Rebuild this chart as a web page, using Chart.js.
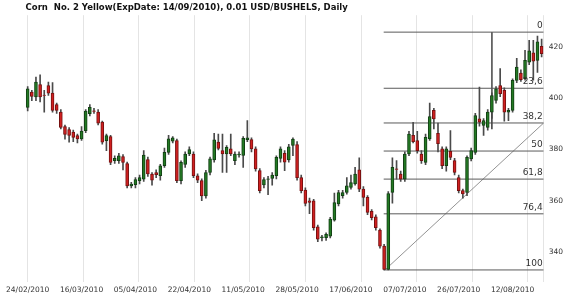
<!DOCTYPE html>
<html>
<head>
<meta charset="utf-8">
<script src="https://cdn.jsdelivr.net/npm/chart.js@4.4.1/dist/chart.umd.min.js"></script>
<style>
  html, body { margin: 0; padding: 0; background: #fff; }
  #wrap { width: 570px; height: 300px; }
</style>
</head>
<body>
<div id="wrap"><canvas id="chart"></canvas></div>
<script>
// daily candles, 24/02/2010 .. 23/08/2010
const opens = [396.4,402.3,400.4,405.3,401.2,404.9,401.9,397.5,394.5,388.9,387.7,386.7,385.4,384.1,387.3,393.9,395.0,394.5,390.6,383.4,
  385.0,375.6,375.6,377.2,374.5,365.8,366.2,367.8,368.4,376.0,370.4,371.0,369.7,373.6,378.8,383.2,383.4,367.8,374.1,378.2,
  378.2,369.7,367.8,361.9,371.0,375.9,382.8,379.5,378.2,380.2,375.6,377.8,377.6,383.8,383.8,380.2,371.7,366.1,368.3,368.7,
  369.7,376.5,378.5,375.9,381.5,381.9,369.0,364.1,359.9,359.9,349.8,345.6,345.6,346.2,352.4,358.7,362.0,363.2,365.2,366.5,
  372.0,364.5,361.3,355.8,353.7,348.5,342.3,333.2,363.2,372.4,370.4,368.4,378.2,385.5,383.4,378.2,374.9,384.1,395.2,386.3,
  380.2,373.6,379.2,375.6,369.0,363.9,363.2,376.3,378.8,391.9,389.3,388.6,394.5,399.1,404.9,403.0,394.5,395.2,406.9,409.7,
  407.6,414.0,417.6,414.7,420.2];
const highs = [404.5,403.0,408.2,409.1,403.0,406.2,406.0,398.0,395.5,389.5,388.5,387.5,386.0,388.9,395.5,397.5,396.0,395.5,391.0,386.0,
  385.5,377.5,378.5,378.0,375.0,367.2,369.0,370.0,379.5,377.0,371.0,372.0,374.2,380.5,385.5,385.0,384.0,375.5,379.0,381.0,
  379.0,370.5,368.5,371.8,377.0,386.3,386.0,386.0,381.5,386.0,379.0,379.0,385.0,391.2,384.5,381.0,372.5,369.0,369.5,371.0,
  377.5,381.0,379.5,382.0,384.5,383.0,370.0,365.0,361.0,360.5,350.5,346.5,347.5,353.5,363.0,364.0,364.0,369.0,370.0,373.0,
  376.7,365.5,362.0,356.5,354.5,349.0,343.0,363.5,376.7,375.6,371.5,379.0,387.0,390.5,387.0,379.5,386.0,398.0,396.0,390.2,
  381.0,381.0,387.3,376.5,370.0,364.5,377.5,380.5,394.0,404.3,392.0,395.5,402.0,404.5,411.5,404.0,396.0,407.5,415.5,411.0,
  418.6,422.5,422.5,424.2,423.0];
const lows = [395.0,399.0,399.0,398.5,394.5,401.0,394.5,394.0,388.0,384.0,382.8,383.0,382.5,383.5,386.5,393.0,394.0,389.5,382.0,379.5,
  374.0,374.5,374.5,372.0,365.0,365.0,365.0,366.5,367.5,369.5,366.0,369.0,368.0,373.0,378.0,382.5,367.0,366.5,373.0,377.5,
  369.0,367.0,360.0,361.0,370.0,375.0,379.8,371.0,371.0,377.5,374.0,377.0,373.0,383.0,379.0,371.5,363.0,365.0,362.3,366.0,
  368.5,375.0,371.7,375.0,377.5,368.0,363.0,358.0,354.9,348.5,344.0,344.3,344.5,345.5,352.0,358.0,361.0,362.5,364.5,366.0,
  363.5,358.0,354.5,352.5,348.5,341.5,333.0,333.0,359.0,368.4,367.5,367.5,377.5,382.5,378.5,374.5,374.0,383.5,388.0,379.0,
  372.5,371.5,376.0,370.0,363.0,361.0,362.0,375.5,378.0,389.0,385.4,387.5,388.0,398.0,400.5,391.0,391.2,394.5,406.0,406.5,
  407.0,413.0,407.0,410.0,416.0];
const closes = [403.6,400.6,406.2,400.4,401.0,401.9,395.2,395.2,388.6,385.8,385.4,384.7,384.1,387.1,394.9,396.4,394.8,390.2,382.8,385.4,
  374.9,376.5,377.5,374.9,365.8,366.5,368.2,369.0,377.8,370.4,368.0,370.1,373.6,378.8,384.1,384.5,367.8,374.9,378.2,379.9,
  369.7,368.0,361.9,371.0,376.3,383.7,380.4,378.2,380.8,378.2,378.2,378.2,384.3,384.5,380.2,372.4,363.9,368.2,368.5,370.0,
  376.9,380.2,375.0,381.0,384.0,369.0,363.9,358.9,359.3,349.5,345.0,345.9,346.9,352.8,359.3,363.2,363.2,365.8,367.1,370.4,
  364.5,361.3,355.4,353.4,349.5,342.3,333.2,362.8,373.0,372.2,368.4,378.2,386.0,383.0,379.5,375.6,384.7,392.8,391.9,382.2,
  373.6,380.2,376.9,371.0,363.9,362.6,376.9,379.5,393.2,390.6,391.2,394.5,401.0,403.6,401.7,394.5,395.2,406.9,412.1,407.2,
  414.7,418.4,414.4,421.9,417.3];

// date labels under the axis and the candle they sit under
const tickIdx = [0, 13, 26, 39, 52, 65, 78, 91, 104, 117];
const tickDates = ['24/02/2010','16/03/2010','05/04/2010','22/04/2010','11/05/2010',
  '28/05/2010','17/06/2010','07/07/2010','26/07/2010','12/08/2010'];
const yTicks = [340, 360, 380, 400, 420];

// fibonacci retracement drawn on the chart
const fibHigh = 425.7;
const fibLow = 333.0;
const fibLevels = [0, 23.6, 38.2, 50, 61.8, 76.4, 100];
const fibLabels = ['0', '23,6', '38,2', '50', '61,8', '76,4', '100'];
const fibFrom = 85.9;      // candle index where the lines start
const markerIdx = 112;     // vertical marker
const markerLow = 392;

const n = closes.length;
const xMax = n - 0.5;
const vgrid = [0, 13.4, 26.8, 40.2, 53.6, 67.1, 80.5, 93.9, 107.3, 120.7, xMax];

const GREEN = '#237a23', GREEN_EDGE = '#123f14';
const RED = '#d02020', RED_EDGE = '#761010';
const FONT = 'DejaVu Sans';

const fibValue = lvl => fibHigh - lvl / 100 * (fibHigh - fibLow);

const wickData = closes.map((c, i) => ({ x: i, y: [lows[i], highs[i]] }));
const bodyData = closes.map((c, i) => ({ x: i, y: [opens[i], c] }));
const up = closes.map((c, i) => c >= opens[i]);

const fibSets = fibLevels.map(lvl => ({
  type: 'line',
  data: [{ x: fibFrom, y: fibValue(lvl) }, { x: xMax, y: fibValue(lvl) }],
  borderColor: '#5a5a5a', borderWidth: 1, pointRadius: 0, order: 3
}));

const fibText = {
  id: 'fibText',
  afterDatasetsDraw(chart) {
    const { ctx, chartArea, scales } = chart;
    ctx.save();
    ctx.font = '9px "' + FONT + '"';
    ctx.fillStyle = '#333';
    ctx.textAlign = 'right';
    ctx.textBaseline = 'bottom';
    fibLevels.forEach((lvl, i) => {
      ctx.fillText(fibLabels[i], chartArea.right - 1, scales.y.getPixelForValue(fibValue(lvl)) - 2);
    });
    ctx.restore();
  }
};

new Chart(document.getElementById('chart'), {
  type: 'bar',
  data: {
    datasets: [
      {
        label: 'wick', data: wickData, grouped: false, barThickness: 1,
        backgroundColor: '#4a4a4a', order: 2
      },
      {
        label: 'body', data: bodyData, grouped: false, barThickness: 3,
        backgroundColor: up.map(u => u ? GREEN : RED),
        borderColor: up.map(u => u ? GREEN_EDGE : RED_EDGE),
        borderWidth: 1, borderSkipped: false, order: 1
      },
      ...fibSets,
      {
        type: 'line',
        data: [{ x: fibFrom + 0.3, y: fibLow }, { x: xMax, y: fibValue(38.2) }],
        borderColor: '#777', borderWidth: 0.8, pointRadius: 0, order: 3
      },
      {
        type: 'line',
        data: [{ x: markerIdx, y: fibHigh }, { x: markerIdx, y: markerLow }],
        borderColor: '#5a5a5a', borderWidth: 1, pointRadius: 0, order: 3
      }
    ]
  },
  options: {
    responsive: true,
    maintainAspectRatio: false,
    animation: false,
    layout: { padding: { left: 25.6, right: 2, bottom: 1 } },
    plugins: {
      legend: { display: false },
      tooltip: { enabled: false },
      title: {
        display: true, align: 'start',
        text: 'Corn  No. 2 Yellow(ExpDate: 14/09/2010), 0.01 USD/BUSHELS, Daily',
        color: '#111', font: { family: FONT, size: 8.5, weight: 'bold' },
        padding: { top: 3, bottom: 2 }
      }
    },
    scales: {
      x: {
        type: 'linear', min: -0.5, max: xMax, offset: false,
        grid: { display: false, drawTicks: false },
        border: { display: false },
        afterBuildTicks: s => { s.ticks = tickIdx.map(v => ({ value: v })); },
        ticks: {
          autoSkip: false, maxRotation: 0, padding: 4, color: '#333',
          font: { family: FONT, size: 7.5 },
          callback: (v, i) => tickDates[i]
        }
      },
      xg: {
        type: 'linear', position: 'bottom', min: -0.5, max: xMax, offset: false,
        grid: { color: '#e4e4e4', drawTicks: false, offset: false },
        border: { display: false },
        afterBuildTicks: s => { s.ticks = vgrid.map(v => ({ value: v })); },
        ticks: { display: false }
      },
      y: {
        type: 'linear', position: 'right', min: 328.3, max: 432.3,
        grid: { display: false, drawTicks: false },
        border: { display: false },
        afterBuildTicks: s => { s.ticks = yTicks.map(v => ({ value: v })); },
        ticks: { padding: 5, color: '#333', font: { family: FONT, size: 7.5 } }
      }
    }
  },
  plugins: [fibText]
});
</script>
</body>
</html>
